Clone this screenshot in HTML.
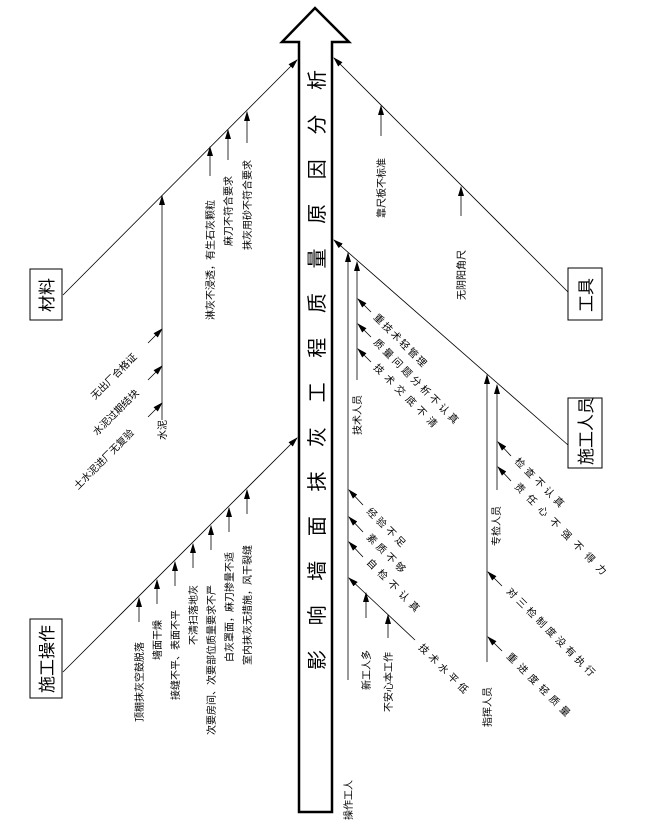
<!DOCTYPE html>
<html><head><meta charset="utf-8"><style>
html,body{margin:0;padding:0;background:#fff;}
svg{display:block;font-family:"Liberation Sans","Noto Sans CJK SC",sans-serif;}
text{fill:#000;}
.s{font-size:10px;}
</style></head><body>
<svg width="669" height="829" viewBox="0 0 669 829" xmlns="http://www.w3.org/2000/svg">
<defs>
<marker id="a" markerWidth="10" markerHeight="6" refX="9" refY="3" orient="auto" markerUnits="userSpaceOnUse"><path d="M0,0 L10,3 L0,6 z" fill="#000"/></marker>
</defs>
<g stroke="#000" fill="none">
<path d="M299,812 L299,42 L282,42 L315,8 L349,42 L332,42 L332,812 Z" stroke-width="2.5" fill="#fff"/>
<rect x="30" y="269" width="32" height="51" stroke-width="1"/>
<rect x="30" y="619" width="32" height="79"/>
<rect x="568" y="268" width="34" height="52"/>
<rect x="568" y="398" width="34" height="70"/>
</g>
<g stroke="#000" stroke-width="0.8" fill="none" marker-end="url(#a)">
<line x1="63" y1="295" x2="297" y2="60"/>
<line x1="63" y1="672" x2="297" y2="438"/>
<line x1="568" y1="292" x2="334" y2="58"/>
<line x1="568" y1="445" x2="334" y2="240"/>
<line x1="162" y1="420" x2="162" y2="196"/>
<line x1="148" y1="343" x2="162" y2="329"/>
<line x1="148" y1="380" x2="162" y2="366"/>
<line x1="148" y1="417" x2="162" y2="403"/>
<line x1="210" y1="176" x2="210" y2="147"/>
<line x1="228" y1="160" x2="228" y2="130"/>
<line x1="247" y1="143" x2="247" y2="112"/>
<line x1="139" y1="622" x2="139" y2="598"/>
<line x1="157" y1="604" x2="157" y2="580"/>
<line x1="175" y1="586" x2="175" y2="562"/>
<line x1="193" y1="568" x2="193" y2="544"/>
<line x1="211" y1="550" x2="211" y2="526"/>
<line x1="229" y1="532" x2="229" y2="508"/>
<line x1="247" y1="514" x2="247" y2="490"/>
<line x1="381" y1="136" x2="381" y2="106"/>
<line x1="461" y1="216" x2="461" y2="187"/>
<line x1="348" y1="680" x2="348" y2="253"/>
<line x1="357" y1="380" x2="357" y2="262"/>
<line x1="371" y1="312" x2="358" y2="299"/>
<line x1="371" y1="337" x2="358" y2="324"/>
<line x1="371" y1="362" x2="358" y2="349"/>
<line x1="363" y1="505" x2="349" y2="490"/>
<line x1="363" y1="532" x2="349" y2="517"/>
<line x1="363" y1="557" x2="349" y2="542"/>
<line x1="415" y1="640" x2="349" y2="578"/>
<line x1="366" y1="618" x2="366" y2="593"/>
<line x1="388" y1="638" x2="388" y2="615"/>
<line x1="487" y1="662" x2="487" y2="375"/>
<line x1="497" y1="490" x2="497" y2="385"/>
<line x1="511" y1="456" x2="498" y2="442"/>
<line x1="511" y1="481" x2="498" y2="467"/>
<line x1="502" y1="586" x2="488" y2="572"/>
<line x1="502" y1="651" x2="488" y2="637"/>
</g>
<text x="324" y="670" font-size="20" transform="rotate(-90 324 670)" textLength="600" lengthAdjust="spacing">影响墙面抹灰工程质量原因分析</text>
<text x="53" y="312" font-size="17" transform="rotate(-90 53 312)">材料</text>
<text x="53" y="693" font-size="17" transform="rotate(-90 53 693)">施工操作</text>
<text x="592" y="312" font-size="17" transform="rotate(-90 592 312)">工具</text>
<text x="592" y="465" font-size="17" transform="rotate(-90 592 465)">施工人员</text>
<g class="s">
<text x="95" y="400" transform="rotate(-45 95 400)">无出厂合格证</text>
<text x="97" y="436" transform="rotate(-45 97 436)">水泥过期结块</text>
<text x="78" y="490" transform="rotate(-45 78 490)">土水泥进厂无复验</text>
<text x="166" y="440" transform="rotate(-90 166 440)">水泥</text>
<text x="214" y="320" transform="rotate(-90 214 320)">淋灰不浸透，有生石灰颗粒</text>
<text x="232" y="246" transform="rotate(-90 232 246)">麻刀不符合要求</text>
<text x="251" y="250" transform="rotate(-90 251 250)">抹灰用砂不符合要求</text>
<text x="143" y="722" transform="rotate(-90 143 722)">顶棚抹灰空鼓脱落</text>
<text x="161" y="660" transform="rotate(-90 161 660)">墙面干燥</text>
<text x="179" y="700" transform="rotate(-90 179 700)">接缝不平、表面不平</text>
<text x="197" y="645" transform="rotate(-90 197 645)">不清扫落地灰</text>
<text x="215" y="735" transform="rotate(-90 215 735)">次要房间、次要部位质量要求不严</text>
<text x="233" y="662" transform="rotate(-90 233 662)">白灰罩面，麻刀掺量不适</text>
<text x="251" y="665" transform="rotate(-90 251 665)">室内抹灰无措施，风干裂缝</text>
<text x="385" y="218" transform="rotate(-90 385 218)">靠尺板不标准</text>
<text x="465" y="300" transform="rotate(-90 465 300)">无阴阳角尺</text>
<text x="352" y="820" transform="rotate(-90 352 820)">操作工人</text>
<text x="361" y="435" transform="rotate(-90 361 435)">技术人员</text>
<text x="370" y="690" transform="rotate(-90 370 690)">新工人多</text>
<text x="392" y="712" transform="rotate(-90 392 712)">不安心本工作</text>
<text x="491" y="727" transform="rotate(-90 491 727)">指挥人员</text>
<text x="500" y="546" transform="rotate(-90 500 546)">专检人员</text>
<text x="373" y="318" transform="rotate(45 373 318)" textLength="70" lengthAdjust="spacing">重技术轻管理</text>
<text x="373" y="343" transform="rotate(45 373 343)" textLength="115" lengthAdjust="spacing">质量问题分析不认真</text>
<text x="373" y="368" transform="rotate(45 373 368)" textLength="85" lengthAdjust="spacing">技术交底不清</text>
<text x="366" y="512" transform="rotate(45 366 512)" textLength="50" lengthAdjust="spacing">经验不足</text>
<text x="366" y="538" transform="rotate(45 366 538)" textLength="50" lengthAdjust="spacing">素质不够</text>
<text x="366" y="563" transform="rotate(45 366 563)" textLength="70" lengthAdjust="spacing">自检不认真</text>
<text x="418" y="648" transform="rotate(45 418 648)" textLength="65" lengthAdjust="spacing">技术水平低</text>
<text x="514" y="462" transform="rotate(45 514 462)" textLength="65" lengthAdjust="spacing">检查不认真</text>
<text x="514" y="487" transform="rotate(45 514 487)" textLength="125" lengthAdjust="spacing">责任心不强不得力</text>
<text x="506" y="592" transform="rotate(45 506 592)" textLength="120" lengthAdjust="spacing">对三检制度没有执行</text>
<text x="506" y="657" transform="rotate(45 506 657)" textLength="85" lengthAdjust="spacing">重进度轻质量</text>
</g>
</svg>
</body></html>
